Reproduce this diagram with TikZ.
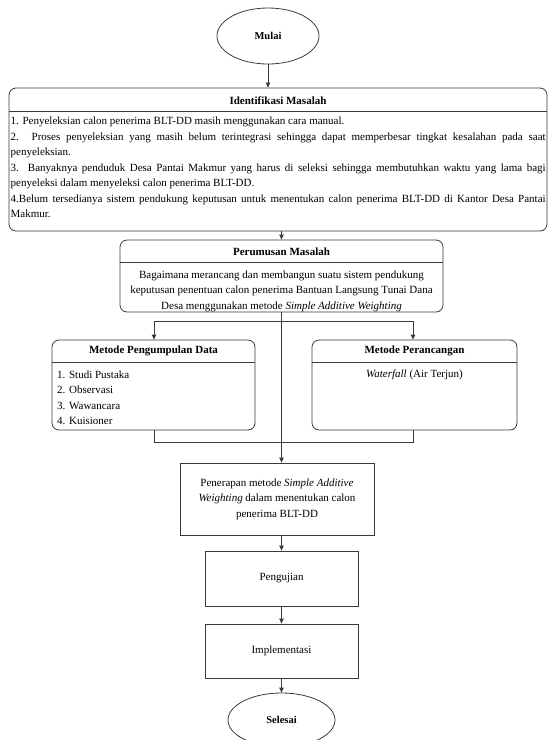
\documentclass[tikz,border=0pt]{standalone}
\usepackage{fontspec}
\setmainfont{Liberation Serif}
\usetikzlibrary{shapes.geometric,arrows.meta}
\definecolor{linec}{HTML}{3A3A3A}
\tikzset{
  conn/.style={draw=linec, line width=0.9pt},
  arr/.style={conn, -{Triangle[length=5pt,width=4.5pt]}},
  term/.style={ellipse, draw=linec, line width=0.8pt, inner sep=0pt,
    font=\bfseries\fontsize{10.5}{12}\selectfont},
  panel/.style={draw=linec, rounded corners=7pt, inner sep=0pt, line width=0.8pt},
  proc/.style={draw=linec, inner sep=0pt, line width=0.8pt},
  ttl/.style={font=\bfseries\fontsize{11}{12}\selectfont, inner sep=0pt},
  body/.style={font=\fontsize{11}{15.5}\selectfont, inner sep=0pt},
}
\begin{document}
\begin{tikzpicture}[x=1pt,y=-1pt]
\useasboundingbox (0,0) rectangle (550,740);
\clip (0,0) rectangle (550,740);
% terminals
\node[term, minimum width=102pt, minimum height=56pt] (mulai) at (268,36) {Mulai};
% Identifikasi Masalah
\node[panel, minimum width=538pt, minimum height=143pt] (ident) at (278,159.5) {};
\draw[conn] (ident.west |- 0,111) -- (ident.east |- 0,111);
\node[ttl] (identT) at (278,101) {Identifikasi Masalah};
\node[body, anchor=north west, text width=535pt, align=justify] (identB) at (10.5,117) {%
\tolerance=10000\hyphenpenalty=10000
1. Penyeleksian calon penerima BLT-DD masih menggunakan cara manual.\par
2. Proses penyeleksian yang masih belum terintegrasi sehingga dapat memperbesar tingkat kesalahan pada saat\linebreak penyeleksian.\par
3. Banyaknya penduduk Desa Pantai Makmur yang harus di seleksi sehingga membutuhkan waktu yang lama bagi\linebreak penyeleksi dalam menyeleksi calon penerima BLT-DD.\par
4.Belum tersedianya sistem pendukung keputusan untuk menentukan calon penerima BLT-DD di Kantor Desa Pantai\linebreak Makmur.};
% Perumusan Masalah
\node[panel, minimum width=323pt, minimum height=72pt] (perum) at (281.5,276) {};
\draw[conn] (perum.west |- 0,262) -- (perum.east |- 0,262);
\node[ttl] (perumT) at (281.5,252) {Perumusan Masalah};
\node[body, align=center] (perumB) at (281.5,291) {Bagaimana merancang dan membangun suatu sistem pendukung\\keputusan penentuan calon penerima Bantuan Langsung Tunai Dana\\Desa menggunakan metode \textit{Simple Additive Weighting}};
% Metode Pengumpulan Data
\node[panel, minimum width=203pt, minimum height=90pt] (kumpul) at (153.5,385) {};
\draw[conn] (kumpul.west |- 0,362) -- (kumpul.east |- 0,362);
\node[ttl] (kumpulT) at (153.5,351) {Metode Pengumpulan Data};
\node[body, anchor=north west, align=left] (kumpulB) at (57,370.5) {1. Studi Pustaka\\2. Observasi\\3. Wawancara\\4. Kuisioner};
% Metode Perancangan
\node[panel, minimum width=205pt, minimum height=90pt] (rancang) at (414.5,385) {};
\draw[conn] (rancang.west |- 0,362) -- (rancang.east |- 0,362);
\node[ttl] (rancangT) at (414.5,351) {Metode Perancangan};
\node[body] (rancangB) at (414.5,375) {\textit{Waterfall} (Air Terjun)};
% process boxes
\node[proc, minimum width=194pt, minimum height=72pt, body, align=center] (terap) at (277,499) {Penerapan metode \textit{Simple Additive}\\\textit{Weighting} dalam menentukan calon\\penerima BLT-DD};
\node[proc, minimum width=153pt, minimum height=55pt, body] (uji) at (281.5,578.5) {Pengujian};
\node[proc, minimum width=153pt, minimum height=54pt, body] (impl) at (281.5,651) {Implementasi};
\node[term, minimum width=107pt, minimum height=54pt] (selesai) at (281.5,720) {Selesai};
% connectors
\draw[arr] (mulai.south) -- (mulai.south |- ident.north);
\draw[arr] (perum.north |- ident.south) -- (perum.north);
\draw[arr] (perum.south) -- (perum.south |- terap.north);
\coordinate (sL) at (154,321);
\coordinate (sR) at (413,321);
\coordinate (mL) at (154,442);
\coordinate (mR) at (413,442);
\draw[conn] (sL) -- (sR);
\draw[arr] (sL) -- (sL |- kumpul.north);
\draw[arr] (sR) -- (sR |- rancang.north);
\draw[conn] (sL |- kumpul.south) -- (mL) -- (mR) -- (sR |- rancang.south);
\draw[arr] (uji.north |- terap.south) -- (uji.north);
\draw[arr] (uji.south) -- (impl.north);
\draw[arr] (impl.south) -- (selesai.north);
\end{tikzpicture}
\end{document}
